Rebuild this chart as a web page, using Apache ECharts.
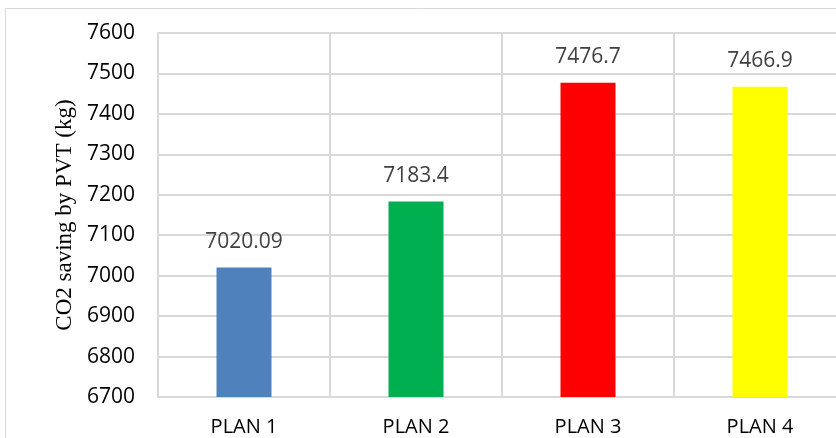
<!DOCTYPE html>
<html><head><meta charset="utf-8">
<script src="https://cdn.jsdelivr.net/npm/echarts@6/dist/echarts.min.js"></script>
<style>html,body{margin:0;padding:0;background:#fff}#c{width:836px;height:438px}</style>
</head><body><div id="c"></div>
<script>
const categories = ['PLAN 1', 'PLAN 2', 'PLAN 3', 'PLAN 4'];
const values = [7020.09, 7183.4, 7476.7, 7466.9];
const labels = ['7020.09', '7183.4', '7476.7', '7466.9'];
const barColors = ['#4F81BD', '#00B050', '#FF0000', '#FFFF00'];
const yTitle = 'CO2 saving by PVT (kg)';

const chart = echarts.init(document.getElementById('c'), null, {renderer: 'canvas'});
chart.setOption({
  animation: false,
  backgroundColor: '#fff',
  graphic: [{type: 'rect', shape: {x: 5.5, y: 8.5, width: 900, height: 600},
    style: {fill: 'none', stroke: '#D9D9D9', lineWidth: 1}, silent: true, z: -1}],
  grid: {left: 158, top: 33, height: 364, width: 688, containLabel: false, outerBoundsMode: 'none'},
  xAxis: {
    type: 'category', data: categories,
    axisLine: {show: true, lineStyle: {color: '#D9D9D9', width: 2}},
    axisTick: {show: false},
    splitLine: {show: true, interval: 0, lineStyle: {color: '#D9D9D9', width: 2}},
    axisLabel: {color: '#000', fontFamily: 'Open Sans', fontSize: 20, margin: 20, interval: 0}
  },
  yAxis: {
    type: 'value', min: 6700, max: 7600, interval: 100,
    name: yTitle, nameLocation: 'middle', nameGap: 78, nameRotate: 90,
    nameTextStyle: {fontFamily: 'Liberation Serif', fontSize: 23, color: '#000'},
    axisLine: {show: true, lineStyle: {color: '#D9D9D9', width: 2}},
    axisTick: {show: false},
    splitLine: {lineStyle: {color: '#D9D9D9', width: 2}},
    axisLabel: {color: '#000', fontFamily: 'Open Sans', fontSize: 21, margin: 23,
      formatter: v => String(v)}
  },
  series: [{
    type: 'bar', barWidth: 55,
    data: values.map((v, i) => ({value: v, itemStyle: {color: barColors[i]}})),
    label: {show: true, position: 'top', distance: 15, color: '#404040',
      fontFamily: 'Open Sans', fontSize: 21,
      formatter: p => labels[p.dataIndex]}
  }]
});
</script></body></html>
